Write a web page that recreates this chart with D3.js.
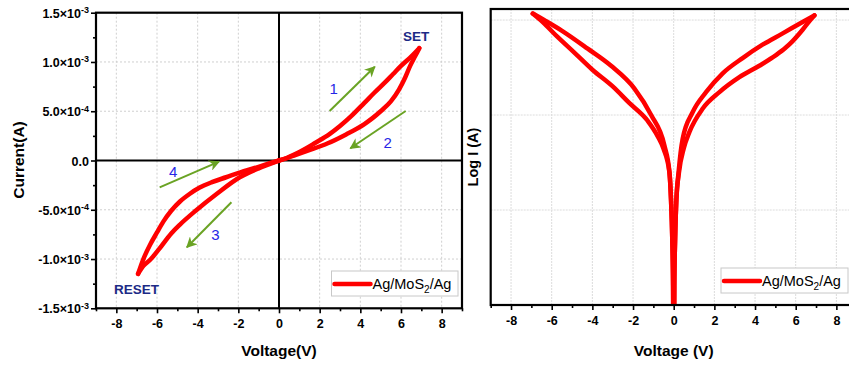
<!DOCTYPE html>
<html><head><meta charset="utf-8">
<script src="https://cdn.jsdelivr.net/npm/d3@7"></script>
<style>
html,body{margin:0;padding:0;background:#fff;}
svg{display:block;font-family:"Liberation Sans",Arial,sans-serif;}
</style></head>
<body><svg id="chart" width="849" height="365"></svg>
<script>
// ---------------- DATA ----------------
// Linear I-V loop (left panel), current in A
const posUpV = [0, 0.4, 0.8, 1.3, 1.75, 2.5, 3.0, 3.55, 4.2, 4.7, 5.2, 5.6, 6.0, 6.5, 6.9];
const posUpI = [0, 0.028e-3, 0.065e-3, 0.12e-3, 0.175e-3, 0.27e-3, 0.35e-3, 0.45e-3, 0.585e-3, 0.69e-3, 0.79e-3, 0.875e-3, 0.96e-3, 1.055e-3, 1.14e-3];
const posLowV = [0, 0.4, 0.8, 1.42, 2.4, 3.3, 4.2, 4.6, 5.0, 5.5, 5.9, 6.2, 6.45, 6.7, 6.9];
const posLowI = [0, 0.025e-3, 0.055e-3, 0.10e-3, 0.175e-3, 0.265e-3, 0.37e-3, 0.43e-3, 0.50e-3, 0.60e-3, 0.72e-3, 0.84e-3, 0.96e-3, 1.06e-3, 1.14e-3];
const negUpV = [0, -0.5, -1.0, -1.6, -2.6, -3.3, -3.9, -4.4, -4.87, -5.3, -5.69, -6.0, -6.34, -6.65, -6.93];
const negUpI = [0, -0.03e-3, -0.065e-3, -0.10e-3, -0.17e-3, -0.22e-3, -0.275e-3, -0.34e-3, -0.416e-3, -0.51e-3, -0.62e-3, -0.73e-3, -0.855e-3, -0.99e-3, -1.15e-3];
const negLowV = [0, -0.5, -1.0, -1.93, -3.07, -4.1, -4.87, -5.3, -5.9, -6.3, -6.67, -6.93];
const negLowI = [0, -0.04e-3, -0.08e-3, -0.17e-3, -0.34e-3, -0.51e-3, -0.65e-3, -0.74e-3, -0.90e-3, -1.00e-3, -1.07e-3, -1.15e-3];

// |I| on log axis (right panel), in A
const logPosOutV = [0, 0.03, 0.07, 0.13, 0.24, 0.44, 0.93, 1.59, 2.41, 3.39, 4.37, 5.36, 6.34, 6.92];
const logPosOutI = [1e-7, 1.6e-6, 5e-6, 1.26e-5, 2.5e-5, 5.6e-5, 1.07e-4, 1.74e-4, 2.75e-4, 3.98e-4, 5.5e-4, 7.24e-4, 9.55e-4, 1.12e-3];
const logPosInV = [0, 0.03, 0.07, 0.13, 0.26, 0.5, 0.77, 1.43, 2.25, 3.23, 4.21, 5.03, 5.5, 5.85, 6.34, 6.75, 6.92];
const logPosInI = [1e-7, 1.6e-6, 5e-6, 1.26e-5, 2.5e-5, 4.5e-5, 6.6e-5, 1.17e-4, 1.74e-4, 2.5e-4, 3.3e-4, 4.27e-4, 5.1e-4, 6.0e-4, 7.9e-4, 1.02e-3, 1.12e-3];
const logNegOutV = [0, -0.03, -0.07, -0.13, -0.21, -0.46, -1.11, -1.93, -3.08, -4.23, -5.53, -6.3, -6.93];
const logNegOutI = [1e-7, 1.6e-6, 5e-6, 1.26e-5, 2.5e-5, 4.8e-5, 1.0e-4, 1.9e-4, 3.3e-4, 5.0e-4, 7.8e-4, 9.8e-4, 1.17e-3];
const logNegInV = [0, -0.03, -0.07, -0.13, -0.21, -0.5, -0.79, -1.28, -2.2, -3.0, -4.0, -4.9, -5.7, -6.44, -6.93];
const logNegInI = [1e-7, 1.6e-6, 5e-6, 1.26e-5, 2.5e-5, 4.4e-5, 6.0e-5, 8.7e-5, 1.35e-4, 2.0e-4, 3.0e-4, 4.57e-4, 6.6e-4, 9.5e-4, 1.17e-3];

// Axis ticks
const xTicks = [-8, -6, -4, -2, 0, 2, 4, 6, 8];
const xMinorTicks = [-9, -7, -5, -3, -1, 1, 3, 5, 7, 9];
const yTicks = [-1.5e-3, -1.0e-3, -5e-4, 0, 5e-4, 1.0e-3, 1.5e-3];
const yTickMant = ["-1.5", "-1.0", "-5.0", "0.0", "5.0", "1.0", "1.5"];
const yTickExp = ["-3", "-3", "-4", "", "-4", "-3", "-3"];
const yMinorTicks = [-1.25e-3, -7.5e-4, -2.5e-4, 2.5e-4, 7.5e-4, 1.25e-3];
const logGrid = [1e-3, 1e-4, 1e-5];

// Annotations: arrows [V0, I0, V1, I1], labels
const arrows = [[2.49, 5.02e-4, 4.71, 9.52e-4], [6.23, 5.02e-4, 3.51, 1.24e-4],
                [-2.34, -4.24e-4, -4.53, -8.81e-4], [-5.87, -2.72e-4, -2.95, -1.2e-5]];
const arrowNums = ["1", "2", "3", "4"];
const numPos = [[2.69, 7.26e-4], [5.35, 1.78e-4], [-3.13, -7.46e-4], [-5.2, -1.07e-4]];
const stateLabels = ["SET", "RESET"];
const statePos = [[6.74, 1.254e-3], [-7.01, -1.31e-3]];
const legendLabel = "Ag/MoS";

// ---------------- DRAW ----------------
const svg = d3.select("#chart");
const red = "#ff0000";
const defs = svg.append("defs");
defs.append("marker").attr("id", "ah").attr("viewBox", "0 0 10 10")
  .attr("refX", 9).attr("refY", 5).attr("markerWidth", 11).attr("markerHeight", 11)
  .attr("markerUnits", "userSpaceOnUse").attr("orient", "auto")
  .append("path").attr("d", "M0,0 L10,5 L0,10 L3,5 Z").attr("fill", "#6aa324");

function zip(v, i) { return v.map((d, k) => [d, i[k]]).sort((a, b) => a[0] - b[0]); }
const fmtX = d => String(d);

// ===== Left panel =====
const L = {x0: 96, x1: 462, y0: 12.7, y1: 308.3};
const xL = d3.scaleLinear().domain([-9, 9]).range([L.x0, L.x1]);
const yL = d3.scaleLinear().domain([-1.5e-3, 1.5e-3]).range([L.y1, L.y0]);
const gL = svg.append("g");

gL.selectAll(".gx").data(xTicks).join("line")
  .attr("x1", d => xL(d)).attr("x2", d => xL(d)).attr("y1", L.y0).attr("y2", L.y1)
  .attr("stroke", "#cfcfcf").attr("stroke-width", 1).attr("stroke-dasharray", "2,2");
gL.selectAll(".gy").data(yTicks.filter(d => Math.abs(d) < 1.4e-3)).join("line")
  .attr("x1", L.x0).attr("x2", L.x1).attr("y1", d => yL(d)).attr("y2", d => yL(d))
  .attr("stroke", "#cfcfcf").attr("stroke-width", 1).attr("stroke-dasharray", "2,2");

gL.append("line").attr("x1", xL(0)).attr("x2", xL(0)).attr("y1", L.y0).attr("y2", L.y1)
  .attr("stroke", "#000").attr("stroke-width", 2);
gL.append("line").attr("x1", L.x0).attr("x2", L.x1).attr("y1", yL(0)).attr("y2", yL(0))
  .attr("stroke", "#000").attr("stroke-width", 2);

const lineL = d3.line().x(d => xL(d[0])).y(d => yL(d[1])).curve(d3.curveMonotoneX);
[[posUpV, posUpI], [posLowV, posLowI], [negUpV, negUpI], [negLowV, negLowI]].forEach(([v, i]) => {
  gL.append("path").attr("d", lineL(zip(v, i))).attr("fill", "none")
    .attr("stroke", red).attr("stroke-width", 4.5).attr("stroke-linecap", "round").attr("stroke-linejoin", "round");
});

gL.selectAll(".arr").data(arrows).join("line")
  .attr("x1", d => xL(d[0])).attr("y1", d => yL(d[1])).attr("x2", d => xL(d[2])).attr("y2", d => yL(d[3]))
  .attr("stroke", "#6aa324").attr("stroke-width", 2).attr("marker-end", "url(#ah)");
gL.selectAll(".num").data(arrowNums).join("text")
  .attr("x", (d, k) => xL(numPos[k][0])).attr("y", (d, k) => yL(numPos[k][1]))
  .attr("text-anchor", "middle").attr("dominant-baseline", "central")
  .attr("font-size", 15).attr("fill", "#2626e6").text(d => d);
gL.selectAll(".st").data(stateLabels).join("text")
  .attr("x", (d, k) => xL(statePos[k][0])).attr("y", (d, k) => yL(statePos[k][1]))
  .attr("text-anchor", "middle").attr("dominant-baseline", "central")
  .attr("font-size", 13.5).attr("font-weight", "bold").attr("fill", "#1c2a86").text(d => d);

const axBL = gL.append("g").attr("transform", `translate(0,${L.y1})`)
  .call(d3.axisBottom(xL).tickValues(xTicks).tickSize(5).tickFormat(fmtX));
gL.append("g").attr("transform", `translate(0,${L.y1})`)
  .call(d3.axisBottom(xL).tickValues(xMinorTicks).tickSize(3).tickFormat(""));
const axLL = gL.append("g").attr("transform", `translate(${L.x0},0)`)
  .call(d3.axisLeft(yL).tickValues(yTicks).tickSize(5).tickFormat(""));
gL.append("g").attr("transform", `translate(${L.x0},0)`)
  .call(d3.axisLeft(yL).tickValues(yMinorTicks).tickSize(3).tickFormat(""));
gL.selectAll(".domain").remove();
gL.selectAll(".tick line").attr("stroke", "#000").attr("stroke-width", 1.6);
axBL.selectAll(".tick text").attr("font-size", 12.5).attr("font-weight", "bold")
  .attr("font-family", "Liberation Sans, Arial, sans-serif").attr("dy", "0.95em").attr("fill", "#000");
axLL.selectAll(".tick").each(function(d, k) {
  const t = d3.select(this).append("text").attr("x", -7).attr("dy", "0.36em")
    .attr("text-anchor", "end").attr("font-size", 12.5).attr("font-weight", "bold")
    .attr("font-family", "Liberation Sans, Arial, sans-serif").attr("fill", "#000");
  if (yTickExp[k] === "") { t.text(yTickMant[k]); }
  else {
    t.append("tspan").text(yTickMant[k] + "\u00d710");
    t.append("tspan").attr("dy", "-0.5em").attr("font-size", 9).text(yTickExp[k]);
  }
});
gL.append("rect").attr("x", L.x0).attr("y", L.y0).attr("width", L.x1 - L.x0).attr("height", L.y1 - L.y0)
  .attr("fill", "none").attr("stroke", "#000").attr("stroke-width", 2.2);

function legend(g, x, y, w, h) {
  g.append("rect").attr("x", x).attr("y", y).attr("width", w).attr("height", h)
    .attr("fill", "#fff").attr("stroke", "#c8c8c8").attr("stroke-width", 1);
  g.append("line").attr("x1", x + 3).attr("x2", x + 39).attr("y1", y + h / 2 + 0.5).attr("y2", y + h / 2 + 0.5)
    .attr("stroke", red).attr("stroke-width", 4.5).attr("stroke-linecap", "round");
  const t = g.append("text").attr("x", x + 41).attr("y", y + h / 2 + 5.5).attr("font-size", 14.5).attr("fill", "#000");
  t.append("tspan").text(legendLabel);
  t.append("tspan").attr("dy", 4).attr("font-size", 10).text("2");
  t.append("tspan").attr("dy", -4).text("/Ag");
}
legend(gL, 331.5, 271, 126.5, 25);

svg.append("text").attr("x", xL(0)).attr("y", 356).attr("text-anchor", "middle")
  .attr("font-size", 15.5).attr("font-weight", "bold").text("Voltage(V)");
svg.append("text").attr("transform", "translate(24,160) rotate(-90)").attr("text-anchor", "middle")
  .attr("font-size", 15.5).attr("font-weight", "bold").text("Current(A)");

// ===== Right panel =====
const R = {x0: 490.7, x1: 856.7, y0: 9, y1: 305};
const xR = d3.scaleLinear().domain([-9, 9]).range([R.x0, R.x1]);
const yR = d3.scaleLog().domain([1e-6, 1.307e-3]).range([R.y1, R.y0]);
const gR = svg.append("g");
defs.append("clipPath").attr("id", "clipR").append("rect")
  .attr("x", R.x0).attr("y", R.y0).attr("width", R.x1 - R.x0).attr("height", R.y1 - R.y0);

gR.selectAll(".gx").data(xTicks).join("line")
  .attr("x1", d => xR(d)).attr("x2", d => xR(d)).attr("y1", R.y0).attr("y2", R.y1)
  .attr("stroke", "#dcdcdc").attr("stroke-width", 1).attr("stroke-dasharray", "2,1");
gR.selectAll(".gy").data(logGrid).join("line")
  .attr("x1", R.x0).attr("x2", R.x1).attr("y1", d => yR(d)).attr("y2", d => yR(d))
  .attr("stroke", "#dcdcdc").attr("stroke-width", 1).attr("stroke-dasharray", "2,1");

const lineR = d3.line().x(d => xR(d[0])).y(d => yR(d[1])).curve(d3.curveMonotoneX);
const gc = gR.append("g").attr("clip-path", "url(#clipR)");
[[logPosOutV, logPosOutI], [logPosInV, logPosInI], [logNegOutV, logNegOutI], [logNegInV, logNegInI]].forEach(([v, i]) => {
  gc.append("path").attr("d", lineR(zip(v, i))).attr("fill", "none")
    .attr("stroke", red).attr("stroke-width", 4.5).attr("stroke-linecap", "round").attr("stroke-linejoin", "round");
});

const axBR = gR.append("g").attr("transform", `translate(0,${R.y1})`)
  .call(d3.axisBottom(xR).tickValues(xTicks).tickSize(5).tickFormat(fmtX));
gR.append("g").attr("transform", `translate(0,${R.y1})`)
  .call(d3.axisBottom(xR).tickValues(xMinorTicks).tickSize(3).tickFormat(""));
gR.selectAll(".domain").remove();
gR.selectAll(".tick line").attr("stroke", "#000").attr("stroke-width", 1.6);
axBR.selectAll(".tick text").attr("font-size", 12.5).attr("font-weight", "bold")
  .attr("font-family", "Liberation Sans, Arial, sans-serif").attr("dy", "0.95em").attr("fill", "#000");
gR.append("rect").attr("x", R.x0).attr("y", R.y0).attr("width", R.x1 - R.x0).attr("height", R.y1 - R.y0)
  .attr("fill", "none").attr("stroke", "#000").attr("stroke-width", 2.2);
legend(gR, 721, 268, 127, 25);

svg.append("text").attr("x", xR(0)).attr("y", 356).attr("text-anchor", "middle")
  .attr("font-size", 15.5).attr("font-weight", "bold").text("Voltage (V)");
svg.append("text").attr("transform", "translate(478,157) rotate(-90)").attr("text-anchor", "middle")
  .attr("font-size", 14.5).attr("font-weight", "bold").text("Log I (A)");
</script></body></html>
